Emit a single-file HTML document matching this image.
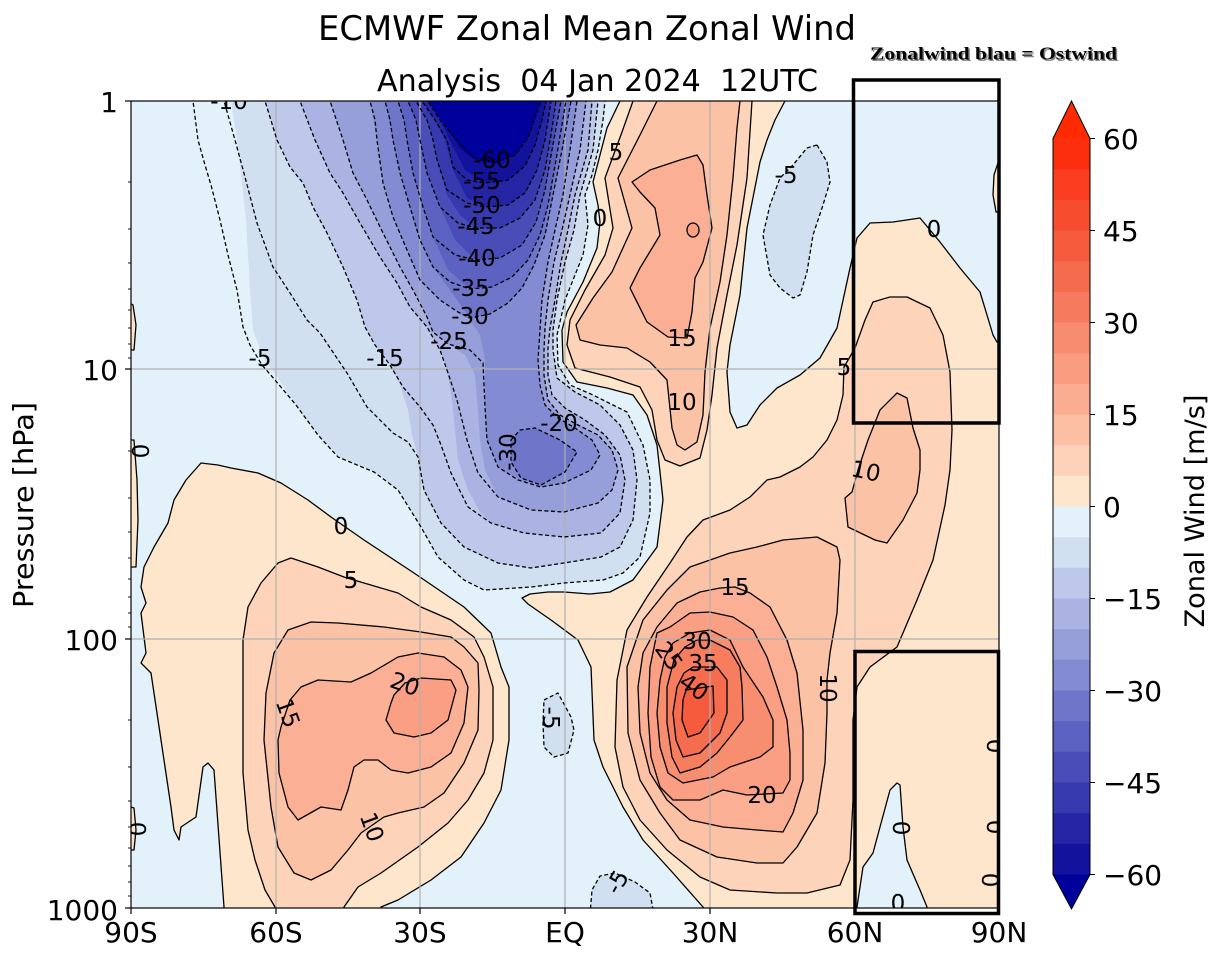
<!DOCTYPE html>
<html><head><meta charset="utf-8"><style>
html,body{margin:0;padding:0;background:#fff;}
svg{display:block;}
.t{font-family:"DejaVu Sans","Liberation Sans",sans-serif;}
.lbl{font-family:"DejaVu Sans","Liberation Sans",sans-serif;font-size:23px;fill:#000;text-anchor:middle;}
.sl{stroke:#000;stroke-width:1.3;stroke-linejoin:round;}
.dl{stroke:#000;stroke-width:1.3;stroke-dasharray:4,2.5;stroke-linejoin:round;}
</style></head><body>
<svg width="1218" height="960" viewBox="0 0 1218 960" xmlns="http://www.w3.org/2000/svg">
<defs><clipPath id="c"><rect x="131" y="101" width="868" height="807"/></clipPath></defs>
<rect width="1218" height="960" fill="#fff"/>
<g clip-path="url(#c)">
<rect x="131" y="101" width="868" height="807" fill="#e3f2fa"/>
<!-- negative fills -->
<polygon fill="#d1e0f1" points="231,90 231,101 237,140 241,175 246,220 250,290 253,330 263,357 277,377 296,405 318,435 338,457 374,472 398,490 421,527 438,557 464,580 484,590 531,587 564,583 603,580 623,573 640,557 650,513 650,480 643,445 627,412 593,395 570,385 558,365 557,335 565,300 575,275 583,255 588,225 585,195 592,175 598,150 603,120 605,101 605,90"/>
<polygon fill="#bdc8ea" points="262,90 265,101 277,140 290,167 303,183 313,207 327,233 343,267 357,300 365,327 375,345 390,365 400,385 408,410 412,435 418,457 424,490 441,523 464,547 498,563 531,568 564,563 601,557 620,547 633,520 637,480 633,450 620,425 600,405 575,392 557,378 553,350 553,330 557,300 565,262 574,230 580,195 593,150 598,101 598,90"/>
<polygon fill="#aab3e2" points="298,90 300,101 315,140 330,173 343,193 360,223 380,257 397,283 410,307 427,327 440,350 447,370 452,400 455,430 458,460 468,490 480,512 491,523 524,533 564,537 601,533 620,513 625,480 620,455 605,435 585,420 565,408 552,395 548,375 548,348 550,328 555,300 561,262 568,230 575,195 588,150 592,101 592,90"/>
<polygon fill="#969fda" points="328,90 330,101 343,140 353,173 367,200 383,233 400,267 413,290 427,317 433,332 448,344 465,355 475,375 478,410 480,440 485,470 498,497 531,510 564,512 598,503 612,490 618,470 612,450 598,435 578,425 560,415 548,400 544,375 544,350 545,328 548,300 554,262 562,230 570,195 580,150 586,101 586,90"/>
<polygon fill="#838bd3" points="366,90 370,101 377,140 383,183 393,217 407,250 420,280 440,300 458,312 470,320 480,335 485,360 485,407 487,440 498,467 518,480 541,487 564,483 591,470 600,455 592,440 575,428 558,418 545,405 540,385 538,360 540,330 542,300 548,262 555,230 563,195 570,150 577,101 577,90"/>
<polygon fill="#6f76ca" points="511,440 520,430 535,428 560,440 577,452 565,472 541,485 521,478 511,462"/>
<polygon fill="#6f76ca" points="383,90 385,101 393,140 400,173 410,207 420,240 433,267 450,290 470,318 490,314 508,303 522,288 534,265 545,235 553,195 562,150 571,101 571,90"/>
<polygon fill="#5c62c1" points="396,90 398,101 404,120 407,140 413,173 423,207 433,237 448,270 470,289 492,287 512,277 528,260 540,235 548,205 556,160 566,101 566,90"/>
<polygon fill="#4a4db8" points="406,90 408,101 416,120 420,140 427,173 440,207 455,240 476,260 500,258 522,245 536,222 545,190 552,150 561,101 561,90"/>
<polygon fill="#3739ae" points="414,90 416,101 427,120 433,140 437,160 447,195 460,215 476,228 500,228 520,218 535,200 545,170 551,135 556,101 556,90"/>
<polygon fill="#2424a5" points="420,90 422,101 435,120 445,140 453,170 467,198 485,207 508,205 525,193 537,170 545,140 551,101 551,90"/>
<polygon fill="#12129d" points="426,90 428,101 440,120 452,145 465,170 485,183 508,180 525,166 535,145 542,120 546,101 546,90"/>
<polygon fill="#00009a" points="425,90 428,101 445,125 460,148 475,160 495,164 515,155 528,138 535,118 541,101 541,90"/>
<!-- small negative blobs -->
<polygon fill="#d1e0f1" class="dl" points="817,145 827,162 830,182 823,205 813,235 807,272 800,295 793,298 780,288 770,275 763,235 770,205 780,178 793,165 807,148"/>
<polygon fill="#d1e0f1" class="dl" points="544,700 558,693 571,717 574,730 568,753 554,757 544,747 543,723"/>
<polygon fill="#d1e0f1" class="dl" points="590,915 592,890 600,876 615,873 635,882 650,893 654,915"/>
<!-- positive fills -->
<polygon fill="#fde6cb" class="sl" points="224,915 224,907 214,770 208,763 203,767 196,817 181,827 179,840 174,830 171,807 161,740 151,673 141,663 146,653 141,613 146,603 141,587 144,567 154,547 168,523 174,500 186,480 201,463 218,465 231,468 258,473 281,483 308,500 331,517 364,540 414,573 464,607 491,633 501,667 509,687 509,740 501,790 484,823 461,857 431,880 398,900 381,907 381,915"/>
<polygon fill="#fde6cb" class="sl" points="620,90 620,101 607,128 593,182 598,205 600,222 597,248 583,282 567,312 562,330 563,362 577,382 607,388 633,395 647,415 657,445 660,472 663,500 657,547 633,580 610,592 590,594 564,592 548,592 530,594 522,598 528,604 551,620 578,640 591,667 594,740 603,767 623,807 643,840 673,873 703,907 707,915 860,915 857,907 863,867 873,853 880,827 890,790 897,783 900,785 903,827 907,860 920,890 927,907 927,915 1010,915 1010,342 997,342 993,335 987,315 980,292 960,268 940,242 920,218 893,222 870,223 857,238 850,268 837,328 820,358 800,375 777,388 760,405 747,425 737,428 730,412 727,372 730,345 740,295 747,228 760,162 767,140 775,120 785,101 787,90"/>
<polygon fill="#fde6cb" class="sl" points="125,300 133,305 136,325 134,350 125,350"/>
<polygon fill="#fde6cb" class="sl" points="125,440 134,440 137,480 138,520 136,567 125,567"/>
<polygon fill="#fde6cb" class="sl" points="125,805 134,808 136,830 134,850 125,850"/>
<polygon fill="#fde6cb" class="sl" points="1005,160 999,160 994,175 993,195 996,212 1005,212"/>
<!-- level 5 -->
<polygon fill="#fdd4b9" class="sl" points="344,577 318,567 291,558 278,563 261,583 248,607 243,640 243,700 243,773 248,830 255,860 265,890 275,907 275,915 344,915 344,907 358,887 381,873 418,847 448,823 468,800 484,773 493,740 493,687 484,657 474,637 451,620 421,607 398,593 364,583"/>
<polygon fill="#fdd4b9" class="sl" points="633,90 633,101 622,132 605,178 613,228 605,255 585,290 570,320 567,345 575,368 610,377 640,387 652,410 657,440 665,460 680,466 700,458 707,430 712,395 717,348 727,295 737,245 747,178 752,101 752,90"/>
<polygon fill="#fdd4b9" class="sl" points="687,537 703,520 730,510 750,497 767,480 780,477 800,467 813,457 827,440 837,420 843,395 844,367 855,348 865,320 873,302 890,297 907,297 930,308 943,335 950,372 952,430 950,470 945,505 933,560 917,600 897,647 870,667 857,687 853,720 853,800 850,860 840,885 807,893 777,893 730,890 700,877 667,850 640,820 623,787 615,747 617,680 627,630 647,597 670,563"/>
<!-- level 10 -->
<polygon fill="#fcc2a6" class="sl" points="361,833 348,850 331,870 311,880 294,873 278,847 271,807 264,740 266,693 274,653 288,630 311,622 338,623 384,627 421,632 451,637 464,647 478,663 479,690 478,730 464,763 444,793 424,807 398,813 384,817"/>
<polygon fill="#fcc2a6" class="sl" points="657,90 657,101 640,135 618,178 632,228 612,272 593,298 576,325 580,340 600,345 627,348 650,362 667,380 672,428 677,445 685,450 697,442 703,415 705,372 710,328 720,282 727,235 733,178 737,128 740,101 740,90"/>
<polygon fill="#fcc2a6" class="sl" points="897,393 907,398 913,428 920,450 920,470 917,493 903,520 887,543 875,540 848,527 845,498 852,492 858,470 868,440 880,410"/>
<polygon fill="#fcc2a6" class="sl" points="643,620 627,667 628,733 640,780 660,813 680,840 717,857 757,863 783,863 797,847 817,813 825,763 827,713 827,680 830,653 837,613 840,560 837,547 817,537 783,540 757,547 730,553 710,560 690,567 667,590"/>
<!-- level 15 -->
<polygon fill="#fbb095" class="sl" points="301,687 318,680 351,682 371,673 398,657 418,653 444,657 461,670 468,687 464,723 451,753 431,767 408,773 391,770 378,760 364,760 354,767 348,790 341,810 321,807 298,820 288,807 279,773 278,740 281,727 290,700"/>
<polygon fill="#fbb095" class="sl" points="632,182 650,170 680,160 697,155 703,165 707,195 712,228 703,262 695,278 692,312 687,338 668,337 647,322 630,288 640,268 660,235 655,208 640,192"/>
<polygon fill="#fbb095" class="sl" points="720,588 735,587 750,593 770,607 787,640 797,673 803,730 803,780 793,813 783,832 757,830 723,827 690,820 667,800 650,773 640,733 638,687 643,653 657,627 677,603 700,592"/>
<!-- level 20+ -->
<polygon fill="#fa9f83" class="sl" points="405,683 421,678 451,680 456,690 448,720 431,733 414,737 394,733 386,720 391,703 394,695"/>
<ellipse cx="693" cy="230" rx="6" ry="7" fill="#fa9f83" class="sl"/>
<polygon fill="#fa9f83" class="sl" points="657,633 670,627 690,613 710,612 733,617 753,630 767,657 777,687 787,720 790,753 790,780 783,793 747,795 723,790 700,800 673,800 660,787 651,757 648,713 650,667"/>
<polygon fill="#f88e70" class="sl" points="673,643 690,633 710,630 730,640 743,667 763,697 773,720 773,747 760,757 730,767 713,777 683,783 668,773 660,747 657,713 660,680 665,657"/>
<polygon fill="#f77d5f" class="sl" points="697,640 710,640 730,650 740,667 742,687 743,720 730,737 717,753 700,767 680,773 672,757 667,723 667,687 674,660 685,647"/>
<polygon fill="#f66c4e" class="sl" points="693,667 717,667 727,680 727,713 720,733 700,753 683,757 676,740 673,713 677,687 684,673"/>
<polygon fill="#f65b3e" class="sl" points="686,690 713,686 714,713 700,733 688,737 682,720 683,700"/>
<!-- grid -->
<g stroke="#b0b0b0" stroke-width="1.2">
<line x1="276" y1="101" x2="276" y2="908"/><line x1="420" y1="101" x2="420" y2="908"/><line x1="565" y1="101" x2="565" y2="908"/><line x1="710" y1="101" x2="710" y2="908"/><line x1="855" y1="101" x2="855" y2="908"/>
<line x1="131" y1="369" x2="999" y2="369"/><line x1="131" y1="639" x2="999" y2="639"/>
</g>
<!-- negative lines -->
<g fill="none">
<polyline class="dl" points="192,90 193,101 198,140 205,165 211,185 220,220 228,255 237,290 243,327 250,345 262,365 275,380 296,405 318,435 338,457 374,472 398,490 421,527 438,557 464,580 484,590 531,587 564,583 603,580 623,573 640,557 650,513 650,480 643,445 627,412 593,395 570,385 558,365 557,335 565,300 575,275 583,255 588,225 585,195 592,175 598,150 603,120 605,101 606,90"/>
<polyline class="dl" points="222,90 224,101 235,140 245,177 257,223 273,267 290,293 307,320 320,333 347,373 367,407 393,433 408,442 418,457 424,490 441,523 464,547 498,563 531,568 564,563 601,557 620,547 633,520 637,480 633,450 620,425 600,405 575,392 557,378 553,350 553,330 557,300 565,262 574,230 580,195 593,150 598,101 599,90"/>
<polyline class="dl" points="262,90 265,101 277,140 290,167 303,183 313,207 327,233 343,267 357,300 365,327 375,345 390,365 403,387 420,407 433,425 441,445 451,473 468,507 491,523 524,533 564,537 601,533 620,513 625,480 620,455 605,435 585,420 565,408 552,395 548,375 548,348 550,328 555,300 561,262 568,230 575,195 588,150 592,101 593,90"/>
<polyline class="dl" points="298,90 300,101 315,140 330,173 343,193 360,223 380,257 397,283 410,307 427,327 440,350 447,370 457,400 467,440 478,473 498,497 531,510 564,512 598,503 612,490 618,470 612,450 598,435 578,425 560,415 548,400 544,375 544,350 545,328 548,300 554,262 562,230 570,195 580,150 586,101 587,90"/>
<polyline class="dl" points="328,90 330,101 343,140 353,173 367,200 383,233 400,267 413,290 427,317 433,332 448,344 470,350 483,363 485,407 487,440 498,467 518,480 541,487 564,483 591,470 600,455 592,440 575,428 558,418 545,405 540,385 538,360 540,330 542,300 548,262 555,230 563,195 570,150 577,101 578,90"/>
<polygon class="dl" points="511,440 520,430 535,428 560,440 577,452 565,472 541,485 521,478 511,462"/>
<polyline class="dl" points="368,90 370,101 375,120 377,140 383,183 393,217 407,250 420,280 440,300 458,312 470,318 490,314 508,303 522,288 534,265 545,235 553,195 562,150 571,101 572,90"/>
<polyline class="dl" points="383,90 385,101 390,120 393,140 400,173 410,207 420,240 433,267 450,282 470,289 492,287 512,277 528,260 540,235 548,205 556,160 566,101 567,90"/>
<polyline class="dl" points="396,90 398,101 404,120 407,140 413,173 423,207 433,237 455,255 476,260 500,258 522,245 536,222 545,190 552,150 561,101 562,90"/>
<polyline class="dl" points="406,90 408,101 416,120 420,140 427,173 440,207 458,223 476,228 500,228 520,218 535,200 545,170 551,135 556,101 557,90"/>
<polyline class="dl" points="414,90 416,101 427,120 433,140 437,160 447,190 467,203 485,207 508,205 525,193 537,170 545,140 551,101 552,90"/>
<polyline class="dl" points="420,90 422,101 435,120 447,140 453,167 467,180 485,183 508,180 525,166 535,145 542,120 546,101 547,90"/>
<polyline class="dl" points="425,90 428,101 440,120 457,140 463,147 475,158 495,162 515,155 528,138 535,118 541,101 542,90"/>
</g>
<!-- contour labels -->
<g class="lbl">
<text x="229" y="109">-10</text>
<text x="492" y="168">-60</text>
<text x="482" y="189">-55</text>
<text x="482" y="213">-50</text>
<text x="476" y="234">-45</text>
<text x="477" y="266">-40</text>
<text x="471" y="296">-35</text>
<text x="470" y="324">-30</text>
<text x="449" y="349">-25</text>
<text x="385" y="366">-15</text>
<text x="260" y="366">-5</text>
<text x="559" y="431">-20</text>
<text transform="translate(508,452) rotate(-90)" y="8">-30</text>
<text x="616" y="160">5</text>
<text x="600" y="226">0</text>
<text x="682" y="346">15</text>
<text x="682" y="410">10</text>
<text x="786" y="183">-5</text>
<text x="934" y="237">0</text>
<text x="844" y="375">5</text>
<text transform="translate(866,471) rotate(12)" y="8">10</text>
<text transform="translate(141,451) rotate(-90)" y="8">0</text>
<text x="341" y="534">0</text>
<text x="351" y="588">5</text>
<text transform="translate(405,684) rotate(20)" y="8">20</text>
<text transform="translate(288,713) rotate(70)" y="8">15</text>
<text transform="translate(372,827) rotate(70)" y="8">10</text>
<text transform="translate(551,718) rotate(90)" y="8">-5</text>
<text x="735" y="595">15</text>
<text x="697" y="649">30</text>
<text transform="translate(669,656) rotate(55)" y="8">25</text>
<text x="703" y="671">35</text>
<text transform="translate(694,687) rotate(35)" y="8">40</text>
<text x="762" y="803">20</text>
<text transform="translate(828,688) rotate(90)" y="8">10</text>
<text transform="translate(617,882) rotate(-60)" y="8">-5</text>
<text transform="translate(901,828) rotate(90)" y="8">0</text>
<text x="898" y="911">0</text>
<text transform="translate(995,746) rotate(90)" y="8">0</text>
<text transform="translate(995,827) rotate(90)" y="8">0</text>
<text transform="translate(990,880) rotate(90)" y="8">0</text>
<text transform="translate(137,829) rotate(90)" y="8">0</text>
</g>
</g>
<!-- axes frame -->
<rect x="131" y="101" width="868" height="807" fill="none" stroke="#000" stroke-width="1.2"/>
<g stroke="#000" stroke-width="1.2">
<line x1="125" y1="101" x2="131" y2="101"/><line x1="125" y1="369" x2="131" y2="369"/><line x1="125" y1="639" x2="131" y2="639"/><line x1="125" y1="908" x2="131" y2="908"/>
<line x1="131" y1="908" x2="131" y2="914"/><line x1="276" y1="908" x2="276" y2="914"/><line x1="420" y1="908" x2="420" y2="914"/><line x1="565" y1="908" x2="565" y2="914"/><line x1="710" y1="908" x2="710" y2="914"/><line x1="855" y1="908" x2="855" y2="914"/><line x1="999" y1="908" x2="999" y2="914"/>
</g>
<g stroke="#000" stroke-width="0.9">
<line x1="128" y1="182" x2="131" y2="182"/><line x1="128" y1="229" x2="131" y2="229"/><line x1="128" y1="263" x2="131" y2="263"/><line x1="128" y1="289" x2="131" y2="289"/><line x1="128" y1="310" x2="131" y2="310"/><line x1="128" y1="328" x2="131" y2="328"/><line x1="128" y1="344" x2="131" y2="344"/><line x1="128" y1="358" x2="131" y2="358"/>
<line x1="128" y1="451" x2="131" y2="451"/><line x1="128" y1="498" x2="131" y2="498"/><line x1="128" y1="532" x2="131" y2="532"/><line x1="128" y1="558" x2="131" y2="558"/><line x1="128" y1="579" x2="131" y2="579"/><line x1="128" y1="597" x2="131" y2="597"/><line x1="128" y1="613" x2="131" y2="613"/><line x1="128" y1="627" x2="131" y2="627"/>
<line x1="128" y1="720" x2="131" y2="720"/><line x1="128" y1="767" x2="131" y2="767"/><line x1="128" y1="801" x2="131" y2="801"/><line x1="128" y1="827" x2="131" y2="827"/><line x1="128" y1="848" x2="131" y2="848"/><line x1="128" y1="866" x2="131" y2="866"/><line x1="128" y1="882" x2="131" y2="882"/><line x1="128" y1="896" x2="131" y2="896"/>
</g>
<!-- boxes -->
<rect x="853.5" y="80" width="145.5" height="343" fill="none" stroke="#000" stroke-width="3.5"/>
<rect x="855" y="651.5" width="143.5" height="262" fill="none" stroke="#000" stroke-width="3.5"/>
<!-- tick labels -->
<g class="t" font-size="28" fill="#000" text-anchor="end">
<text x="118" y="112">1</text>
<text x="118" y="380">10</text>
<text x="118" y="650">100</text>
<text x="118" y="920">1000</text>
</g>
<g class="t" font-size="28" fill="#000" text-anchor="middle">
<text x="131" y="942">90S</text>
<text x="276" y="942">60S</text>
<text x="420" y="942">30S</text>
<text x="565" y="942">EQ</text>
<text x="710" y="942">30N</text>
<text x="855" y="942">60N</text>
<text x="999" y="942">90N</text>
</g>
<text class="t" font-size="28" text-anchor="middle" transform="translate(33,505) rotate(-90)" textLength="206" lengthAdjust="spacingAndGlyphs">Pressure [hPa]</text>
<!-- titles -->
<text class="t" x="587" y="40" font-size="34" text-anchor="middle" textLength="538" lengthAdjust="spacingAndGlyphs">ECMWF Zonal Mean Zonal Wind</text>
<text class="t" x="597.5" y="91" font-size="30" text-anchor="middle" xml:space="preserve" textLength="441" lengthAdjust="spacingAndGlyphs">Analysis  04 Jan 2024  12UTC</text>
<text x="995" y="61" font-family="'Liberation Serif',serif" font-weight="bold" font-size="18" fill="#888" text-anchor="middle" textLength="247" lengthAdjust="spacingAndGlyphs">Zonalwind blau = Ostwind</text>
<text x="993.5" y="59.5" font-family="'Liberation Serif',serif" font-weight="bold" font-size="18" fill="#000" text-anchor="middle" textLength="247" lengthAdjust="spacingAndGlyphs">Zonalwind blau = Ostwind</text>
<!-- colorbar -->
<g>
<polygon points="1053,139 1090,139 1071.5,101" fill="#ff2a00"/>
<rect x="1053" y="138.5" width="37" height="31.2" fill="#fd2e0e"/>
<rect x="1053" y="169.2" width="37" height="31.2" fill="#fa3d1f"/>
<rect x="1053" y="199.8" width="37" height="31.2" fill="#f84c2f"/>
<rect x="1053" y="230.5" width="37" height="31.2" fill="#f65b3e"/>
<rect x="1053" y="261.2" width="37" height="31.2" fill="#f56b4e"/>
<rect x="1053" y="291.8" width="37" height="31.2" fill="#f67b5e"/>
<rect x="1053" y="322.5" width="37" height="31.2" fill="#f78c6f"/>
<rect x="1053" y="353.2" width="37" height="31.2" fill="#f99c80"/>
<rect x="1053" y="383.8" width="37" height="31.2" fill="#fbad92"/>
<rect x="1053" y="414.5" width="37" height="31.2" fill="#fcbfa4"/>
<rect x="1053" y="445.2" width="37" height="31.2" fill="#fdd2b8"/>
<rect x="1053" y="475.8" width="37" height="31.2" fill="#fde6cb"/>
<rect x="1053" y="506.5" width="37" height="31.2" fill="#e3f2fa"/>
<rect x="1053" y="537.2" width="37" height="31.2" fill="#d1e0f1"/>
<rect x="1053" y="567.8" width="37" height="31.2" fill="#bdc8ea"/>
<rect x="1053" y="598.5" width="37" height="31.2" fill="#aab3e2"/>
<rect x="1053" y="629.2" width="37" height="31.2" fill="#969fda"/>
<rect x="1053" y="659.8" width="37" height="31.2" fill="#838bd3"/>
<rect x="1053" y="690.5" width="37" height="31.2" fill="#6f76ca"/>
<rect x="1053" y="721.2" width="37" height="31.2" fill="#5c62c1"/>
<rect x="1053" y="751.8" width="37" height="31.2" fill="#4a4db8"/>
<rect x="1053" y="782.5" width="37" height="31.2" fill="#3739ae"/>
<rect x="1053" y="813.2" width="37" height="31.2" fill="#2424a5"/>
<rect x="1053" y="843.8" width="37" height="30.7" fill="#12129d"/>
<polygon points="1053,874.5 1090,874.5 1071.5,909" fill="#00009a"/>
<polygon points="1071.5,101 1090,138.5 1090,874.5 1071.5,909 1053,874.5 1053,138.5" fill="none" stroke="#000" stroke-width="1"/>
</g>
<g stroke="#000" stroke-width="1">
<line x1="1090" y1="138.5" x2="1095" y2="138.5"/><line x1="1090" y1="230.5" x2="1095" y2="230.5"/><line x1="1090" y1="322.5" x2="1095" y2="322.5"/><line x1="1090" y1="414.5" x2="1095" y2="414.5"/><line x1="1090" y1="506.5" x2="1095" y2="506.5"/><line x1="1090" y1="598.5" x2="1095" y2="598.5"/><line x1="1090" y1="690.5" x2="1095" y2="690.5"/><line x1="1090" y1="782.5" x2="1095" y2="782.5"/><line x1="1090" y1="874.5" x2="1095" y2="874.5"/>
</g>
<g class="t" font-size="28" fill="#000">
<text x="1103" y="149">60</text>
<text x="1103" y="241">45</text>
<text x="1103" y="333">30</text>
<text x="1103" y="425">15</text>
<text x="1103" y="517">0</text>
<text x="1103" y="609">−15</text>
<text x="1103" y="701">−30</text>
<text x="1103" y="793">−45</text>
<text x="1103" y="885">−60</text>
</g>
<text class="t" font-size="27" text-anchor="middle" transform="translate(1204,511) rotate(-90)" textLength="233" lengthAdjust="spacingAndGlyphs">Zonal Wind [m/s]</text>
</svg>
</body></html>
